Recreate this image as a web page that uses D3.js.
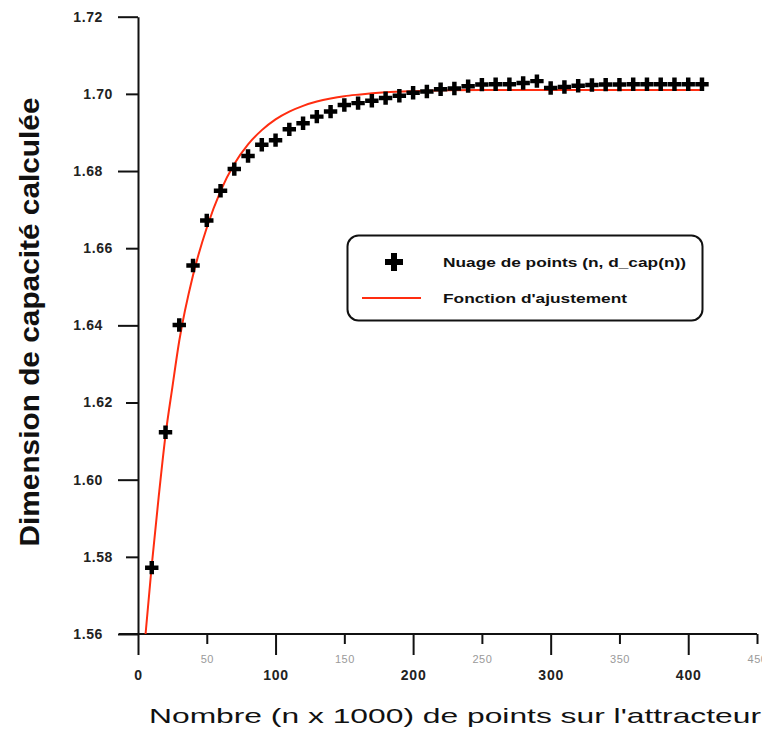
<!DOCTYPE html>
<html>
<head>
<meta charset="utf-8">
<script src="https://cdn.jsdelivr.net/npm/d3@7"></script>
<style>
  html, body { margin: 0; padding: 0; background: #fff; }
  svg { display: block; }
</style>
</head>
<body>
<svg id="chart" width="762" height="729"></svg>
<script>
// Nombre de points (milliers) et dimension de capacité mesurée
const nPoints = [10, 20, 30, 40, 50, 60, 70, 80, 90, 100,
                 110, 120, 130, 140, 150, 160, 170, 180, 190, 200,
                 210, 220, 230, 240, 250, 260, 270, 280, 290, 300,
                 310, 320, 330, 340, 350, 360, 370, 380, 390, 400, 410];
const dCap = [1.5772, 1.6123, 1.6401, 1.6555, 1.6672, 1.6749, 1.6805, 1.6839, 1.6868, 1.6880,
              1.6908, 1.6924, 1.6941, 1.6954, 1.6971, 1.6976, 1.6982, 1.6989, 1.6995, 1.7003,
              1.7006, 1.7012, 1.7014, 1.7020, 1.7024, 1.7025, 1.7025, 1.7028, 1.7033, 1.7015,
              1.7018, 1.7021, 1.7023, 1.7024, 1.7024, 1.7025, 1.7025, 1.7025, 1.7025, 1.7025, 1.7025];

// Fonction d'ajustement (valeurs relevées le long de la courbe)
const fitN = [5.5, 10, 15, 20, 25, 30, 40, 50, 60, 70, 80, 90, 100,
              110, 120, 130, 140, 150, 160, 180, 200, 250, 300, 350, 410];
const fitD = [1.5600, 1.5778, 1.5954, 1.6115, 1.6240, 1.6360, 1.6530, 1.6653, 1.6748, 1.6818,
              1.6869, 1.6906, 1.6934, 1.6954, 1.6969, 1.6980, 1.6988, 1.6994, 1.6998, 1.7004,
              1.7007, 1.7010, 1.7010, 1.7010, 1.7010];

// Graduations
const yMajorTicks = [1.56, 1.60, 1.64, 1.68, 1.72];
const yMinorTicks = [1.58, 1.62, 1.66, 1.70];
const xMajorTicks = [0, 100, 200, 300, 400];
const xMinorTicks = [50, 150, 250, 350, 450];

const svg = d3.select("#chart");

const x = d3.scaleLinear().domain([0, 450]).range([138, 757]);
const y = d3.scaleLinear().domain([1.56, 1.72]).range([634, 16.7]);

const fmtY = d3.format(".2f");
const AX = "#111";

// ---- Axe vertical ----
function styleAxis(g) {
  g.selectAll("path.domain").attr("stroke", AX).attr("stroke-width", 2);
  g.selectAll(".tick line").attr("stroke", AX).attr("stroke-width", 2);
}

const yMajor = svg.append("g")
  .attr("transform", `translate(${x(0)},0)`)
  .call(d3.axisLeft(y).tickValues(yMajorTicks).tickFormat(fmtY)
        .tickSize(20).tickSizeOuter(0).tickPadding(15));
styleAxis(yMajor);
yMajor.selectAll(".tick text")
  .attr("font-family", "'Liberation Sans', Arial, sans-serif")
  .attr("font-weight", "bold").attr("font-size", 14).attr("fill", "#222")
  .attr("letter-spacing", 0.6);

const yMinor = svg.append("g")
  .attr("transform", `translate(${x(0)},0)`)
  .call(d3.axisLeft(y).tickValues(yMinorTicks).tickFormat(fmtY)
        .tickSize(12).tickSizeOuter(0).tickPadding(13));
styleAxis(yMinor);
yMinor.select("path.domain").remove();
yMinor.selectAll(".tick text")
  .attr("font-family", "'Liberation Sans', Arial, sans-serif")
  .attr("font-weight", "bold").attr("font-size", 14).attr("fill", "#222")
  .attr("letter-spacing", 0.6);

// ---- Axe horizontal ----
const xMajor = svg.append("g")
  .attr("transform", `translate(0,${y(1.56)})`)
  .call(d3.axisBottom(x).tickValues(xMajorTicks).tickFormat(d3.format("d"))
        .tickSize(21).tickSizeOuter(0).tickPadding(15));
styleAxis(xMajor);
xMajor.select("path.domain").attr("d", `M${x(0) - 19},0H${x(450)}`);
xMajor.selectAll(".tick text")
  .attr("font-family", "'Liberation Sans', Arial, sans-serif")
  .attr("font-weight", "bold").attr("font-size", 14).attr("fill", "#222")
  .attr("letter-spacing", 0.8);

const xMinor = svg.append("g")
  .attr("transform", `translate(0,${y(1.56)})`)
  .call(d3.axisBottom(x).tickValues(xMinorTicks).tickFormat(d3.format("d"))
        .tickSize(10).tickSizeOuter(0).tickPadding(11));
styleAxis(xMinor);
xMinor.select("path.domain").remove();
xMinor.selectAll(".tick text")
  .attr("font-family", "'Liberation Sans', Arial, sans-serif")
  .attr("font-size", 11).attr("fill", "#9a9a9a")
  .attr("letter-spacing", 0.5);

// ---- Courbe d'ajustement ----
const fitData = fitN.map((n, i) => ({ n, d: fitD[i] }));
svg.append("path")
  .datum(fitData)
  .attr("fill", "none")
  .attr("stroke", "#ff2d10")
  .attr("stroke-width", 2)
  .attr("d", d3.line().x(p => x(p.n)).y(p => y(p.d)).curve(d3.curveMonotoneX));

// ---- Nuage de points ----
const cross = d3.symbol().type(d3.symbolCross);
svg.append("g")
  .selectAll("path")
  .data(nPoints.map((n, i) => ({ n, d: dCap[i] })))
  .join("path")
  .attr("transform", p => `translate(${x(p.n)},${y(p.d)})`)
  .attr("d", cross.size(100)())
  .attr("fill", "#000");

// ---- Légende ----
const leg = svg.append("g");
leg.append("rect")
  .attr("x", 347.5).attr("y", 235.5)
  .attr("width", 355).attr("height", 85)
  .attr("rx", 11).attr("ry", 11)
  .attr("fill", "#fff").attr("stroke", "#111").attr("stroke-width", 2);
leg.append("path")
  .attr("transform", "translate(394,262)")
  .attr("d", cross.size(180)())
  .attr("fill", "#000");
leg.append("line")
  .attr("x1", 362).attr("x2", 421).attr("y1", 298).attr("y2", 298)
  .attr("stroke", "#ff2d10").attr("stroke-width", 2);
leg.append("text")
  .attr("x", 443).attr("y", 267)
  .attr("font-family", "'Liberation Sans', Arial, sans-serif")
  .attr("font-weight", "bold").attr("font-size", 13).attr("fill", "#111")
  .attr("textLength", 243).attr("lengthAdjust", "spacingAndGlyphs")
  .text("Nuage de points (n, d_cap(n))");
leg.append("text")
  .attr("x", 443).attr("y", 303)
  .attr("font-family", "'Liberation Sans', Arial, sans-serif")
  .attr("font-weight", "bold").attr("font-size", 13).attr("fill", "#111")
  .attr("textLength", 184).attr("lengthAdjust", "spacingAndGlyphs")
  .text("Fonction d'ajustement");

// ---- Titres des axes ----
svg.append("text")
  .attr("transform", "translate(39,322) rotate(-90)")
  .attr("text-anchor", "middle")
  .attr("font-family", "'Liberation Sans', Arial, sans-serif")
  .attr("font-weight", "bold").attr("font-size", 27).attr("fill", "#111")
  .attr("textLength", 449).attr("lengthAdjust", "spacingAndGlyphs")
  .text("Dimension de capacité calculée");

svg.append("text")
  .attr("x", 149).attr("y", 723)
  .attr("font-family", "'Liberation Sans', Arial, sans-serif")
  .attr("font-size", 21).attr("fill", "#111")
  .attr("textLength", 612).attr("lengthAdjust", "spacingAndGlyphs")
  .text("Nombre (n x 1000) de points sur l'attracteur");
</script>
</body>
</html>
